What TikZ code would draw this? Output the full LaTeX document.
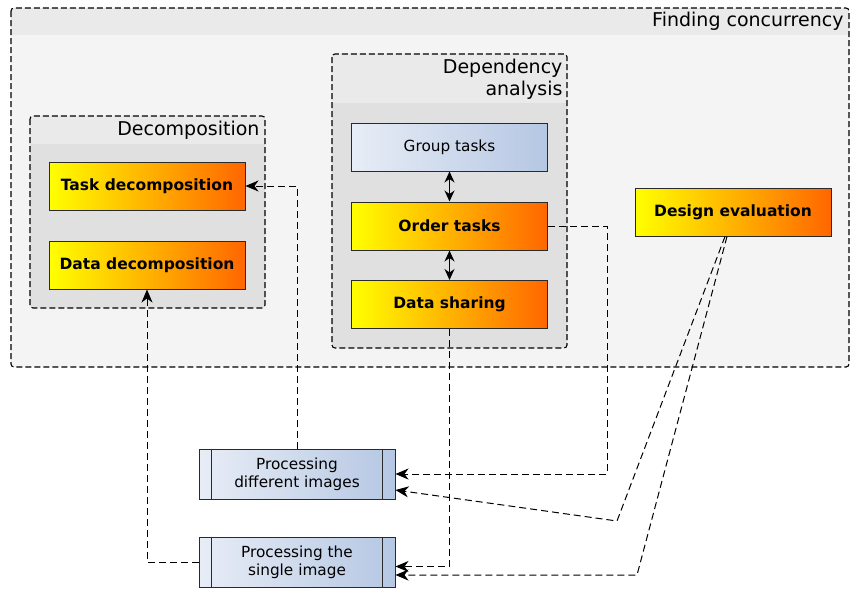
\documentclass[tikz,border=0pt]{standalone}
\usepackage{fontspec}
\setmainfont{DejaVu Sans}
\usetikzlibrary{arrows.meta}
\definecolor{hdgray}{HTML}{EAEAEA}
\definecolor{outergray}{HTML}{F4F4F4}
\definecolor{innergray}{HTML}{E0E0E0}
\definecolor{boxline}{HTML}{2A2A2A}
\definecolor{taskyellow}{HTML}{FFFF00}
\definecolor{taskorange}{HTML}{FF6600}
\definecolor{paleblue}{HTML}{E8EDF6}
\definecolor{midblue}{HTML}{B5C7E3}
\tikzset{
  frame/.style={draw=black, line width=1.1pt, dash pattern=on 6pt off 3pt, rounded corners=3pt},
  title/.style={anchor=east, align=right, font=\fontsize{19}{22}\selectfont},
  task/.style={draw=boxline, line width=1pt, minimum width=196pt, minimum height=48pt,
    left color=taskyellow, right color=taskorange, font=\fontsize{15.5}{18}\selectfont\bfseries},
  plain/.style={draw=boxline, line width=1pt, minimum width=196pt, minimum height=48pt,
    left color=paleblue, right color=midblue, font=\fontsize{15.3}{18}\selectfont},
  proc/.style={plain, align=center, minimum height=50pt},
  link/.style={line width=1pt, dash pattern=on 7pt off 4pt, -{Stealth[length=13pt,width=11pt,inset=4pt]}},
  both/.style={line width=1.2pt, {Stealth[length=11pt,width=10pt,inset=3.5pt]}-{Stealth[length=11pt,width=10pt,inset=3.5pt]}}
}
\begin{document}
\begin{tikzpicture}[x=1pt,y=-1pt]
      \useasboundingbox (0,0) rectangle (850,589);
      % Finding concurrency
      \fill[outergray, rounded corners=3pt] (11,8) rectangle (849,367);
      \begin{scope}
        \clip[rounded corners=3pt] (11,8) rectangle (849,367);
        \fill[hdgray] (11,8) rectangle (849,35);
      \end{scope}
      \draw[frame] (11,8) rectangle (849,367);
      \node[title] (concur) at (847,21) {Finding concurrency};
      % Decomposition
      \fill[innergray, rounded corners=3pt] (30,116) rectangle (265,308);
      \begin{scope}
        \clip[rounded corners=3pt] (30,116) rectangle (265,308);
        \fill[hdgray] (30,116) rectangle (265,144);
      \end{scope}
      \draw[frame] (30,116) rectangle (265,308);
      \node[title] (decomp) at (263,130) {Decomposition};
      % Dependency analysis
      \fill[innergray, rounded corners=3pt] (332,54) rectangle (567,348);
      \begin{scope}
        \clip[rounded corners=3pt] (332,54) rectangle (567,348);
        \fill[hdgray] (332,54) rectangle (567,103);
      \end{scope}
      \draw[frame] (332,54) rectangle (567,348);
      \node[title] (depend) at (566,79) {Dependency\\analysis};
      \draw
        (147,186) node[task] (taskdec){Task decomposition}
        (147,265) node[task] (datadec){Data decomposition}
        (449.5,147) node[plain] (group){Group tasks}
        (449.5,226) node[task] (order){Order tasks}
        (449.5,304.5) node[task] (share){Data sharing}
        (733,212) node[task] (design){Design evaluation}
        (297,474) node[proc] (pdiff){Processing\\different images}
        (297,562) node[proc] (psingle){Processing the\\single image};
      \foreach \p in {pdiff,psingle} {
        \draw[boxline, line width=1pt] ([xshift=13pt]\p.north west) -- ([xshift=13pt]\p.south west);
        \draw[boxline, line width=1pt] ([xshift=-13pt]\p.north east) -- ([xshift=-13pt]\p.south east);
      }
      \coordinate (bend1) at (607,474);
      \coordinate (bend2) at (617,521);
      \coordinate (bend3) at (637,575);
      \begin{scope}
        \draw[both] (group) to (order);
        \draw[both] (order) to (share);
        \draw[link] (pdiff.north) |- (taskdec.east);
        \draw[link] (psingle.west) -| (datadec.south);
        \draw[link] (order.east) -| (bend1) -- (pdiff.east);
        \draw[link] (share.south) |- ([yshift=-4.5pt]psingle.east);
        \draw[link] ([xshift=-8pt]design.south) -- (bend2) -- ([yshift=-16pt]pdiff.east);
        \draw[link] ([xshift=-6pt]design.south) -- (bend3) -- ([yshift=-13pt]psingle.east);
      \end{scope}
    \end{tikzpicture}
\end{document}
